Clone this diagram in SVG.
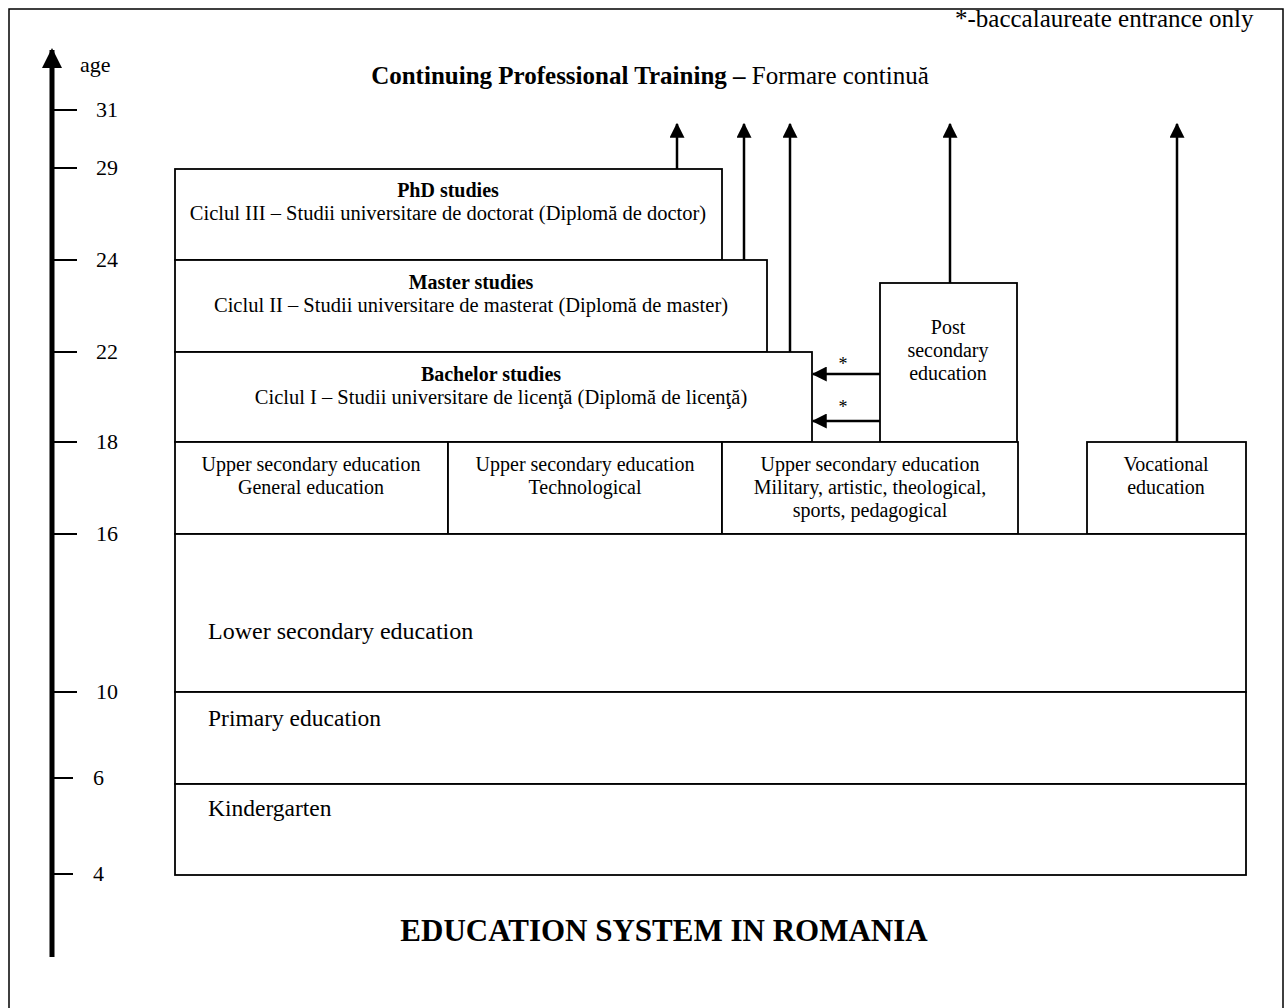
<svg xmlns="http://www.w3.org/2000/svg" width="1286" height="1008" viewBox="0 0 1286 1008">
<style>
text{font-family:"Liberation Serif","Times New Roman",serif;fill:#000}
.box{fill:#fff;stroke:#000;stroke-width:1.8}
.t{font-size:20px;text-anchor:middle}
.c{font-size:20.5px;text-anchor:middle}
.b{font-weight:bold}
.big{font-size:23.5px}
.age{font-size:22px}
.con{stroke:#000;stroke-width:2.5;fill:none}
.tick{stroke:#000;stroke-width:2}
.star{font-size:18px;text-anchor:middle}
</style>
<defs>
<marker id="ah" markerWidth="6" markerHeight="6" refX="5.5" refY="3" orient="auto" markerUnits="strokeWidth" viewBox="0 0 6 6">
<path d="M0,0 L6,3 L0,6 z" fill="#000"/>
</marker>
<marker id="axh" markerWidth="4" markerHeight="4" refX="3.6" refY="2" orient="auto" markerUnits="strokeWidth" viewBox="0 0 4 4">
<path d="M0,0 L4,2 L0,4 z" fill="#000"/>
</marker>
</defs>
<path d="M9,1010 V9 H1283 V1010" fill="none" stroke="#000" stroke-width="1.5"/>
<text x="955" y="27" style="font-size:25px">*-baccalaureate entrance only</text>
<g id="axis">
<line x1="52" y1="957" x2="52" y2="50" stroke="#000" stroke-width="5" marker-end="url(#axh)"/>
<text x="80" y="72" class="age">age</text>
<line class="tick" x1="54" y1="110" x2="77" y2="110"/><text x="96" y="117" class="age">31</text>
<line class="tick" x1="54" y1="168" x2="77" y2="168"/><text x="96" y="175" class="age">29</text>
<line class="tick" x1="54" y1="260" x2="77" y2="260"/><text x="96" y="267" class="age">24</text>
<line class="tick" x1="54" y1="352" x2="77" y2="352"/><text x="96" y="359" class="age">22</text>
<line class="tick" x1="54" y1="442" x2="77" y2="442"/><text x="96" y="449" class="age">18</text>
<line class="tick" x1="54" y1="534" x2="77" y2="534"/><text x="96" y="541" class="age">16</text>
<line class="tick" x1="54" y1="692" x2="77" y2="692"/><text x="96" y="699" class="age">10</text>
<line class="tick" x1="54" y1="778" x2="73" y2="778"/><text x="93" y="785" class="age">6</text>
<line class="tick" x1="54" y1="874" x2="73" y2="874"/><text x="93" y="881" class="age">4</text>
</g>
<text x="650" y="84" style="font-size:25px" text-anchor="middle"><tspan font-weight="bold">Continuing Professional Training –</tspan> Formare continuă</text>
<g id="connectors">
<line class="con" x1="677" y1="169" x2="677" y2="124" marker-end="url(#ah)"/>
<line class="con" x1="744" y1="260" x2="744" y2="124" marker-end="url(#ah)"/>
<line class="con" x1="790" y1="352" x2="790" y2="124" marker-end="url(#ah)"/>
<line class="con" x1="950" y1="283" x2="950" y2="124" marker-end="url(#ah)"/>
<line class="con" x1="1177" y1="442" x2="1177" y2="124" marker-end="url(#ah)"/>
<line class="con" x1="880" y1="374" x2="813" y2="374" marker-end="url(#ah)"/>
<line class="con" x1="880" y1="421" x2="813" y2="421" marker-end="url(#ah)"/>
<text class="star" x="843" y="370">*</text>
<text class="star" x="843" y="413">*</text>
</g>
<g id="phd">
<rect class="box" x="175" y="169" width="547" height="91"/>
<text class="t b" x="448" y="197">PhD studies</text>
<text class="c" x="448" y="220">Ciclul III – Studii universitare de doctorat (Diplomă de doctor)</text>
</g>
<g id="master">
<rect class="box" x="175" y="260" width="592" height="92"/>
<text class="t b" x="471" y="289">Master studies</text>
<text class="c" x="471" y="312">Ciclul II – Studii universitare de masterat (Diplomă de master)</text>
</g>
<g id="bachelor">
<rect class="box" x="175" y="352" width="637" height="90"/>
<text class="t b" x="491" y="381">Bachelor studies</text>
<text class="c" x="501" y="404">Ciclul I – Studii universitare de licenţă (Diplomă de licenţă)</text>
</g>
<g id="postsecondary">
<rect class="box" x="880" y="283" width="137" height="159"/>
<text class="t" x="948" y="334">Post</text>
<text class="t" x="948" y="357">secondary</text>
<text class="t" x="948" y="380">education</text>
</g>
<g id="upper-general">
<rect class="box" x="175" y="442" width="273" height="92"/>
<text class="t" x="311" y="471">Upper secondary education</text>
<text class="t" x="311" y="494">General education</text>
</g>
<g id="upper-tech">
<rect class="box" x="448" y="442" width="274" height="92"/>
<text class="t" x="585" y="471">Upper secondary education</text>
<text class="t" x="585" y="494">Technological</text>
</g>
<g id="upper-military">
<rect class="box" x="722" y="442" width="296" height="92"/>
<text class="t" x="870" y="471">Upper secondary education</text>
<text class="t" x="870" y="494">Military, artistic, theological,</text>
<text class="t" x="870" y="517">sports, pedagogical</text>
</g>
<g id="vocational">
<rect class="box" x="1087" y="442" width="159" height="92"/>
<text class="t" x="1166" y="471">Vocational</text>
<text class="t" x="1166" y="494">education</text>
</g>
<g id="lower-secondary">
<rect class="box" x="175" y="534" width="1071" height="158"/>
<text class="big" x="208" y="639" style="font-size:24px">Lower secondary education</text>
</g>
<g id="primary">
<rect class="box" x="175" y="692" width="1071" height="92"/>
<text class="big" x="208" y="726">Primary education</text>
</g>
<g id="kindergarten">
<rect class="box" x="175" y="784" width="1071" height="91"/>
<text class="big" x="208" y="816">Kindergarten</text>
</g>
<text x="664" y="941" text-anchor="middle" style="font-size:31px;font-weight:bold">EDUCATION SYSTEM IN ROMANIA</text>
</svg>
